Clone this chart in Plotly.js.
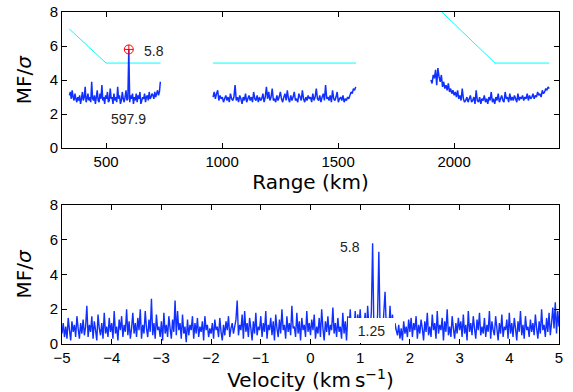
<!DOCTYPE html>
<html>
<head>
<meta charset="utf-8">
<script src="https://cdn.plot.ly/plotly-3.0.1.min.js"></script>
<style>html,body{margin:0;padding:0;background:#fff;}#chart{width:573px;height:392px;}</style>
</head>
<body>
<div id="chart"></div>
<script>
// ---- Top panel: MF/sigma vs range (km) ----
const rangeSeg1Start = 341.9, rangeSeg1Step = 4;
const mfRangeSeg1 = [
  3.1,3.3,2.9,3.4,3.0,2.8,3.2,2.9,2.7,3.0,
  2.8,3.1,2.6,2.9,3.3,2.8,3.0,3.6,2.7,2.9,
  3.2,2.8,3.0,2.7,3.9,2.9,2.8,3.1,2.6,3.0,
  3.4,2.8,2.7,3.2,2.9,3.7,2.8,3.0,2.6,3.1,
  2.9,3.3,2.7,2.8,3.5,2.9,3.0,2.6,3.2,2.8,
  3.0,2.7,3.6,2.9,3.1,2.6,2.8,3.3,2.9,2.7,
  3.0,3.4,2.8,2.9,5.8,2.7,3.1,2.9,3.2,2.6,
  3.0,2.8,3.2,2.7,3.1,2.9,3.3,2.6,2.8,3.0,
  2.9,3.2,2.7,3.0,3.1,2.8,3.3,2.9,3.0,3.2,
  3.1,2.9,3.3,3.0,3.2,3.4,3.1,3.3,3.9
];
const rangeSeg2Start = 961, rangeSeg2Step = 5;
const mfRangeSeg2 = [
  3.0,3.3,2.9,3.2,3.4,2.8,3.1,2.9,3.0,2.7,
  2.9,3.1,2.8,3.0,2.7,3.2,2.9,2.8,3.0,3.7,
  2.8,3.0,2.7,3.1,2.9,2.6,3.0,2.8,3.2,2.7,
  2.9,3.1,2.8,3.0,2.7,3.3,2.9,2.8,3.1,2.7,
  3.0,2.8,2.9,3.2,2.7,3.0,3.6,2.9,3.3,2.8,
  3.0,3.5,2.8,2.9,2.7,3.1,2.8,3.0,3.3,2.9,
  2.7,3.0,3.2,2.8,3.4,2.9,2.7,3.1,2.8,3.0,
  3.3,2.8,2.9,2.7,3.2,3.0,2.8,3.4,2.9,2.7,
  3.0,2.8,3.1,2.9,3.0,2.7,3.2,2.8,3.0,3.5,
  2.9,2.8,3.1,2.7,3.0,3.2,2.8,3.7,2.9,3.0,
  2.8,3.1,2.7,3.4,2.9,2.8,3.0,3.3,2.7,2.9,
  3.0,2.8,3.1,2.7,2.9,2.8,3.0,2.9,3.1,3.3,
  3.2,3.5,3.4,3.6
];
const rangeSeg3Start = 1900, rangeSeg3Step = 5;
const mfRangeSeg3 = [
  4.0,3.8,4.3,4.1,4.6,3.7,4.7,4.2,3.9,4.3,
  3.6,3.9,3.5,3.7,3.4,3.8,3.3,3.5,3.2,3.4,
  3.1,3.3,3.0,3.4,2.9,3.1,2.8,3.5,2.9,2.7,
  2.8,3.0,2.7,2.9,3.1,2.7,2.8,3.0,2.6,3.4,
  2.8,2.7,3.0,2.6,2.9,2.8,3.1,2.7,2.9,2.6,
  3.0,2.8,3.3,2.7,2.9,2.6,3.0,2.8,3.2,2.7,
  2.9,3.1,2.8,2.7,3.3,2.9,3.0,2.7,3.2,2.8,
  3.0,2.8,3.1,2.9,2.7,3.2,2.8,3.0,2.9,3.1,
  2.8,3.0,2.9,3.2,2.8,3.1,2.9,3.0,3.2,2.9,
  3.1,3.0,3.3,3.1,3.2,3.0,3.4,3.2,3.3,3.5,
  3.4,3.6,3.5
];
// detection threshold (cyan)
const thrSeg1X = [341.9, 500, 735];
const thrSeg1Y = [7.0, 5.0, 5.0];
const thrSeg2X = [961, 1577];
const thrSeg2Y = [5.0, 5.0];
const thrSeg3X = [1900, 2176, 2410];
const thrSeg3Y = [8.62, 5.0, 5.0];
// detection
const detRange = [597.9];
const detMF = [5.8];

// ---- Bottom panel: MF/sigma vs velocity ----
const velStart = -5, velStep = 0.025;
const mfVelocity = [
  0.6,1.2,0.4,1.0,0.3,1.5,0.8,0.2,1.3,0.7,1.1,0.4,1.6,0.9,0.3,1.2,0.6,1.4,0.5,1.0,
  2.2,0.4,1.1,0.7,1.6,0.3,1.3,0.8,0.2,1.7,0.9,0.5,1.2,0.3,1.8,0.6,1.0,0.4,1.5,0.7,
  1.2,0.3,1.9,0.6,1.0,0.2,1.4,0.8,1.6,0.4,1.1,0.7,2.0,0.5,1.3,0.3,0.9,1.8,0.6,1.2,
  0.4,1.5,0.8,2.0,0.3,1.1,0.6,1.9,0.9,0.4,1.4,0.7,2.6,0.5,1.2,0.3,1.7,0.8,1.0,0.4,
  1.3,0.2,1.8,0.6,1.1,0.4,1.6,0.9,0.3,1.4,0.7,2.5,0.5,1.9,0.8,1.2,0.3,1.7,0.6,1.0,
  0.1,1.4,0.5,1.1,0.8,1.6,0.3,1.2,0.6,1.5,0.4,1.0,0.7,1.3,0.2,1.6,0.8,1.1,0.4,0.9,
  0.6,1.2,0.3,1.4,0.8,1.0,0.4,1.5,0.7,0.2,1.1,0.5,1.3,0.8,1.6,0.4,0.9,1.2,0.6,1.0,
  1.4,2.5,0.5,1.1,0.8,1.7,0.3,1.9,0.7,1.2,0.4,1.5,0.9,0.2,1.3,0.6,1.8,0.5,1.0,0.8,
  1.6,0.4,1.2,0.7,1.9,0.3,1.1,0.8,1.5,0.5,1.3,0.2,1.7,0.9,0.4,1.4,0.6,2.0,0.8,1.1,
  0.3,1.6,0.7,1.2,0.5,2.2,0.9,1.0,0.4,1.8,0.6,1.3,0.2,1.5,0.8,1.1,0.4,1.9,0.7,1.2,
  0.5,1.4,0.8,1.7,0.3,1.0,0.6,1.5,0.4,2.0,0.9,0.2,1.3,0.7,1.6,0.5,1.1,0.8,2.1,0.6,
  1.2,0.4,1.5,0.7,1.0,0.3,1.8,0.6,1.3,0.2,1.6,0.9,2.0,0.5,1.1,0.8,1.9,0.4,1.7,1.0,
  2.0,0.6,1.4,0.9,1.8,0.5,2.2,1.0,0.7,1.9,5.8,0.8,1.3,0.6,1.7,5.3,0.9,1.4,0.5,1.8,
  3.0,1.0,1.5,0.6,2.2,0.9,1.7,0.4,1.2,0.8,0.5,1.1,0.3,0.9,0.2,1.3,0.6,1.0,0.4,1.4,
  0.7,1.5,0.4,1.2,0.8,1.6,0.3,1.1,0.6,1.4,0.9,0.2,1.3,0.7,1.8,0.5,1.0,0.4,1.7,0.8,
  1.2,0.3,1.9,0.6,1.1,0.8,1.5,0.2,1.3,0.7,2.0,0.5,1.0,0.4,1.6,0.9,0.3,1.2,0.6,1.5,
  0.8,1.3,0.4,1.7,0.6,1.1,0.2,1.9,0.7,1.2,0.5,1.6,0.9,0.3,1.4,0.8,1.8,0.5,1.0,0.6,
  1.5,0.4,1.1,0.7,1.9,0.3,1.3,0.8,0.5,1.6,0.9,0.2,1.2,0.6,1.7,0.4,1.0,0.8,1.4,0.3,
  1.8,0.6,1.2,0.4,1.5,0.9,0.2,1.3,0.7,1.9,0.5,1.1,0.3,1.6,0.8,1.0,0.4,1.4,0.7,1.2,
  0.5,1.7,0.9,0.3,1.3,0.6,2.0,0.8,1.1,0.4,1.5,0.7,1.8,0.5,1.2,2.1,0.9,2.4,0.6,1.9,
  1.0
];
const peakVelocity = 1.25;
const peakVelocityMF = 5.8;

// tick labels
const rangeTicks = [500, 1000, 1500, 2000];
const mfTicks = [0, 2, 4, 6, 8];
const velTicks = [-5, -4, -3, -2, -1, 0, 1, 2, 3, 4, 5];

function grid(start, step, n) { return Array.from({length: n}, (_, i) => +(start + i * step).toFixed(4)); }

const blue = 'rgb(16,48,255)';
const cyan = '#00ffff';
const lineTop = {color: blue, width: 1.5, simplify: false};
const lineBottom = {color: blue, width: 1.4, simplify: false};

const traces = [
  {x: thrSeg1X, y: thrSeg1Y, mode: 'lines', line: {color: cyan, width: 1}, xaxis: 'x', yaxis: 'y'},
  {x: thrSeg2X, y: thrSeg2Y, mode: 'lines', line: {color: cyan, width: 1}, xaxis: 'x', yaxis: 'y'},
  {x: thrSeg3X, y: thrSeg3Y, mode: 'lines', line: {color: cyan, width: 1}, xaxis: 'x', yaxis: 'y'},
  {x: grid(rangeSeg1Start, rangeSeg1Step, mfRangeSeg1.length), y: mfRangeSeg1, mode: 'lines', line: lineTop, xaxis: 'x', yaxis: 'y'},
  {x: grid(rangeSeg2Start, rangeSeg2Step, mfRangeSeg2.length), y: mfRangeSeg2, mode: 'lines', line: lineTop, xaxis: 'x', yaxis: 'y'},
  {x: grid(rangeSeg3Start, rangeSeg3Step, mfRangeSeg3.length), y: mfRangeSeg3, mode: 'lines', line: lineTop, xaxis: 'x', yaxis: 'y'},
  {x: detRange, y: detMF, mode: 'markers', marker: {symbol: 'circle-cross-open', color: 'red', size: 9, line: {width: 1}}, xaxis: 'x', yaxis: 'y'},
  {x: grid(velStart, velStep, mfVelocity.length), y: mfVelocity, mode: 'lines', line: lineBottom, xaxis: 'x2', yaxis: 'y2'}
];

const tickFont = {family: 'Liberation Sans, Arial, sans-serif', size: 15, color: '#000'};
const titleFont = {family: 'DejaVu Sans, sans-serif', size: 20, color: '#000'};
const axBase = {
  showline: true, linecolor: '#000', linewidth: 1, mirror: 'ticks',
  ticks: 'inside', ticklen: 5, tickcolor: '#000', tickwidth: 1,
  showgrid: false, zeroline: false, tickfont: tickFont, automargin: false
};

const annFont = {family: 'Liberation Sans, Arial, sans-serif', size: 14, color: '#222'};
const layout = {
  width: 573, height: 392,
  margin: {l: 62, r: 14, t: 12, b: 48},
  paper_bgcolor: '#fff', plot_bgcolor: '#fff',
  showlegend: false,
  xaxis: Object.assign({}, axBase, {domain: [0, 1], anchor: 'y', range: [310, 2452], tickvals: rangeTicks,
    title: {text: 'Range (km)', font: titleFont, standoff: 2}}),
  yaxis: Object.assign({}, axBase, {domain: [0.59, 1], anchor: 'x', range: [0, 8], tickvals: mfTicks,
    title: {text: 'MF/<i>σ</i>', font: titleFont, standoff: 12}}),
  xaxis2: Object.assign({}, axBase, {domain: [0, 1], anchor: 'y2', range: [-5, 5], tickvals: velTicks,
    title: {text: 'Velocity (km\u2009s<sup>\u22121</sup>)', font: titleFont, standoff: 2}}),
  yaxis2: Object.assign({}, axBase, {domain: [0, 0.419], anchor: 'x2', range: [0, 8], tickvals: mfTicks,
    title: {text: 'MF/<i>σ</i>', font: titleFont, standoff: 12}}),
  annotations: [
    {xref: 'x', yref: 'y', x: 707, y: 5.7, text: String(detMF[0]), showarrow: false, font: annFont},
    {xref: 'x', yref: 'y', x: 597, y: 1.7, text: String(detRange[0]), showarrow: false, font: annFont},
    {xref: 'x2', yref: 'y2', x: 0.8, y: 5.6, text: String(peakVelocityMF), showarrow: false, font: annFont},
    {xref: 'x2', yref: 'y2', x: peakVelocity - 0.02, y: 0.78, text: String(peakVelocity), showarrow: false, font: annFont,
      bgcolor: '#fff', width: 45, height: 23, borderpad: 1, borderwidth: 0}
  ]
};

Plotly.newPlot('chart', traces, layout, {displayModeBar: false, staticPlot: true});
</script>
</body>
</html>
